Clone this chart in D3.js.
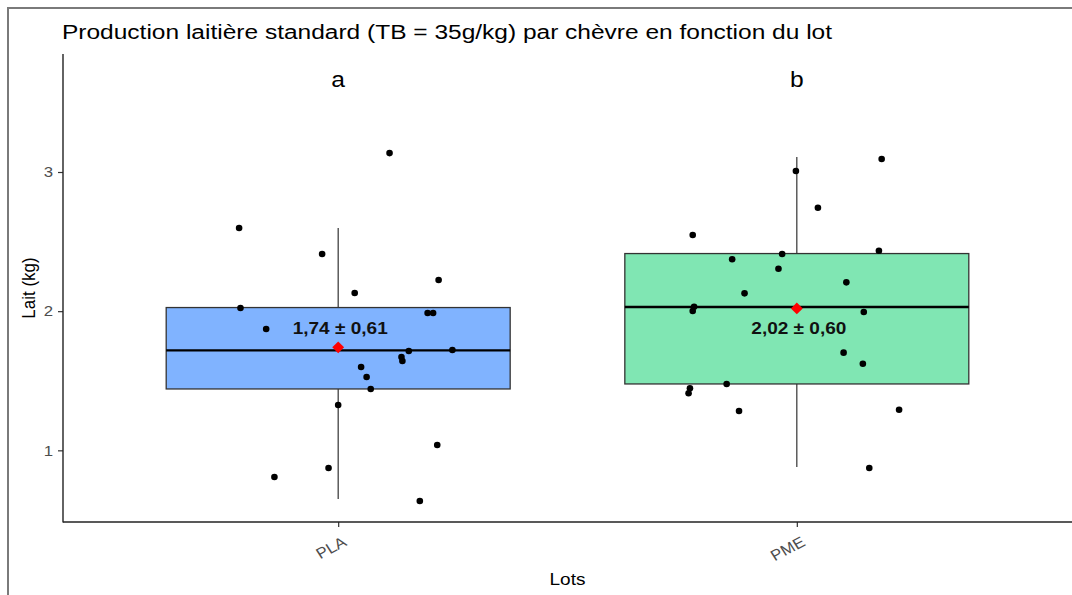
<!DOCTYPE html>
<html>
<head>
<meta charset="utf-8">
<script src="https://cdn.jsdelivr.net/npm/d3@7"></script>
<style>
  html, body { margin: 0; padding: 0; background: #fff; }
  svg { display: block; font-family: "Liberation Sans", Arial, sans-serif; }
</style>
</head>
<body>
<svg id="chart" width="1072" height="595"></svg>
<script>
// ---------- data ----------
const categories = ["PLA", "PME"];
const groupLetters = ["a", "b"];
const fillColors = ["#80b3ff", "#80e6b3"];

const plaValues = [3.136, 2.598, 2.411, 2.224, 2.131, 2.023, 1.987, 1.987, 1.872, 1.721, 1.714,
                   1.671, 1.642, 1.599, 1.527, 1.441, 1.326, 1.038, 0.873, 0.808, 0.636];
const plaJitter = [0.112, -0.216, -0.035, 0.219, 0.036, -0.213, 0.195, 0.207, -0.157, 0.249, 0.154,
                   0.138, 0.140, 0.050, 0.062, 0.071, 0.000, 0.216, -0.021, -0.139, 0.178];

const pmeValues = [3.093, 3.007, 2.743, 2.547, 2.434, 2.411, 2.373, 2.305, 2.207, 2.128, 2.032,
                   2.001, 1.994, 1.702, 1.622, 1.477, 1.446, 1.410, 1.283, 1.292, 0.873];
const pmeJitter = [0.185, -0.002, 0.046, -0.227, 0.179, -0.032, -0.141, -0.040, 0.108, -0.114, -0.224,
                   -0.227, 0.146, 0.102, 0.144, -0.153, -0.233, -0.236, -0.126, 0.223, 0.158];

const q1Values      = [1.441, 1.477];
const medianValues  = [1.718, 2.030];
const q3Values      = [2.026, 2.414];
const whiskerLow    = [0.650, 0.880];
const whiskerHigh   = [2.598, 3.108];
const meanValues    = [1.74, 2.02];
const sdValues      = [0.61, 0.60];

const yTickValues = [1, 2, 3];

// ---------- layout ----------
const svg = d3.select("#chart");
const W = 1072, H = 595;
const panel = { left: 63, right: 1072, top: 54, bottom: 522 };
const SX = 1.12; // horizontal text stretch seen in the reference

const x = d3.scalePoint().domain(categories).range([panel.left, panel.right]).padding(0.6);
const step = x.step();
const boxW = step * 0.75;
const y = d3.scaleLinear().domain([0.485, 3.848]).range([panel.bottom, panel.top]);

const fmt = v => d3.format(".2f")(v).replace(".", ",");

// outer frame (screenshot border)
svg.append("path")
  .attr("d", `M8,${H} V8 H${W}`)
  .attr("fill", "none").attr("stroke", "#7a7a7a").attr("stroke-width", 2);

// title
svg.append("text")
  .attr("transform", `translate(62,39) scale(1.225,1)`)
  .attr("font-size", 20).attr("fill", "#000")
  .text("Production laitière standard (TB = 35g/kg) par chèvre en fonction du lot");

// axes
const yAxis = d3.axisLeft(y).tickValues(yTickValues).tickSize(5).tickPadding(3).tickFormat(d3.format("d"));
const gy = svg.append("g").attr("transform", `translate(${panel.left},0)`).call(yAxis);
gy.select(".domain").remove();
gy.selectAll(".tick line").attr("stroke", "#333").attr("stroke-width", 1.2);
gy.selectAll(".tick text")
  .attr("font-size", 15).attr("fill", "#4d4d4d")
  .attr("font-family", "Liberation Sans, Arial, sans-serif")
  .attr("transform", `scale(${SX},1)`).attr("x", -10 / SX);

const xAxis = d3.axisBottom(x).tickSize(5).tickFormat(d => d);
const gx = svg.append("g").attr("transform", `translate(0,${panel.bottom})`).call(xAxis);
gx.select(".domain").remove();
gx.selectAll(".tick line").attr("stroke", "#333").attr("stroke-width", 1.2);
gx.selectAll(".tick text")
  .attr("font-size", 15).attr("fill", "#4d4d4d")
  .attr("font-family", "Liberation Sans, Arial, sans-serif")
  .attr("text-anchor", "end").attr("dy", null).attr("y", null)
  .attr("transform", `translate(9,23) scale(${SX},1) rotate(-30)`);

// axis lines
svg.append("line")
  .attr("x1", panel.left).attr("x2", panel.left)
  .attr("y1", panel.top).attr("y2", panel.bottom + 0.5)
  .attr("stroke", "#222").attr("stroke-width", 1.4);
svg.append("line")
  .attr("x1", panel.left).attr("x2", panel.right)
  .attr("y1", panel.bottom).attr("y2", panel.bottom)
  .attr("stroke", "#222").attr("stroke-width", 1.4);

// axis titles
svg.append("text")
  .attr("transform", `translate(35,${(panel.top + panel.bottom) / 2}) scale(${SX},1) rotate(-90)`)
  .attr("text-anchor", "middle").attr("font-size", 17).attr("fill", "#000")
  .text("Lait (kg)");
svg.append("text")
  .attr("transform", `translate(${(panel.left + panel.right) / 2},585) scale(${SX},1)`)
  .attr("text-anchor", "middle").attr("font-size", 17).attr("fill", "#000")
  .text("Lots");

// boxplots
const plot = svg.append("g");
categories.forEach((c, i) => {
  const cx = x(c);
  plot.append("line")
    .attr("x1", cx).attr("x2", cx).attr("y1", y(whiskerHigh[i])).attr("y2", y(q3Values[i]))
    .attr("stroke", "#333").attr("stroke-width", 1.2);
  plot.append("line")
    .attr("x1", cx).attr("x2", cx).attr("y1", y(q1Values[i])).attr("y2", y(whiskerLow[i]))
    .attr("stroke", "#333").attr("stroke-width", 1.2);
  plot.append("rect")
    .attr("x", cx - boxW / 2).attr("width", boxW)
    .attr("y", y(q3Values[i])).attr("height", y(q1Values[i]) - y(q3Values[i]))
    .attr("fill", fillColors[i]).attr("stroke", "#333").attr("stroke-width", 1.3);
  plot.append("line")
    .attr("x1", cx - boxW / 2).attr("x2", cx + boxW / 2)
    .attr("y1", y(medianValues[i])).attr("y2", y(medianValues[i]))
    .attr("stroke", "#000").attr("stroke-width", 2.3);
});

// jittered points
const pointSets = [
  { cat: "PLA", values: plaValues, jitter: plaJitter },
  { cat: "PME", values: pmeValues, jitter: pmeJitter }
];
pointSets.forEach(s => {
  plot.append("g").selectAll("circle")
    .data(s.values.map((v, k) => ({ v, j: s.jitter[k] })))
    .join("circle")
    .attr("cx", d => x(s.cat) + d.j * step)
    .attr("cy", d => y(d.v))
    .attr("r", 3.3)
    .attr("fill", "#000");
});

// mean diamonds
const diamond = d3.symbol(d3.symbolSquare, 70);
categories.forEach((c, i) => {
  plot.append("path")
    .attr("d", diamond())
    .attr("transform", `translate(${x(c)},${y(meanValues[i])}) rotate(45)`)
    .attr("fill", "#ff0000");
});

// mean ± sd labels (at the mid-level of the two means)
const labelLevel = d3.mean(meanValues);
categories.forEach((c, i) => {
  svg.append("text")
    .attr("transform", `translate(${x(c) + 2},${y(labelLevel) + 6}) scale(${SX},1)`)
    .attr("text-anchor", "middle").attr("font-size", 17).attr("font-weight", "bold").attr("fill", "#111")
    .text(`${fmt(meanValues[i])} ± ${fmt(sdValues[i])}`);
});

// significance letters
categories.forEach((c, i) => {
  svg.append("text")
    .attr("transform", `translate(${x(c)},87) scale(${SX},1)`)
    .attr("text-anchor", "middle").attr("font-size", 22).attr("fill", "#000")
    .text(groupLetters[i]);
});
</script>
</body>
</html>
